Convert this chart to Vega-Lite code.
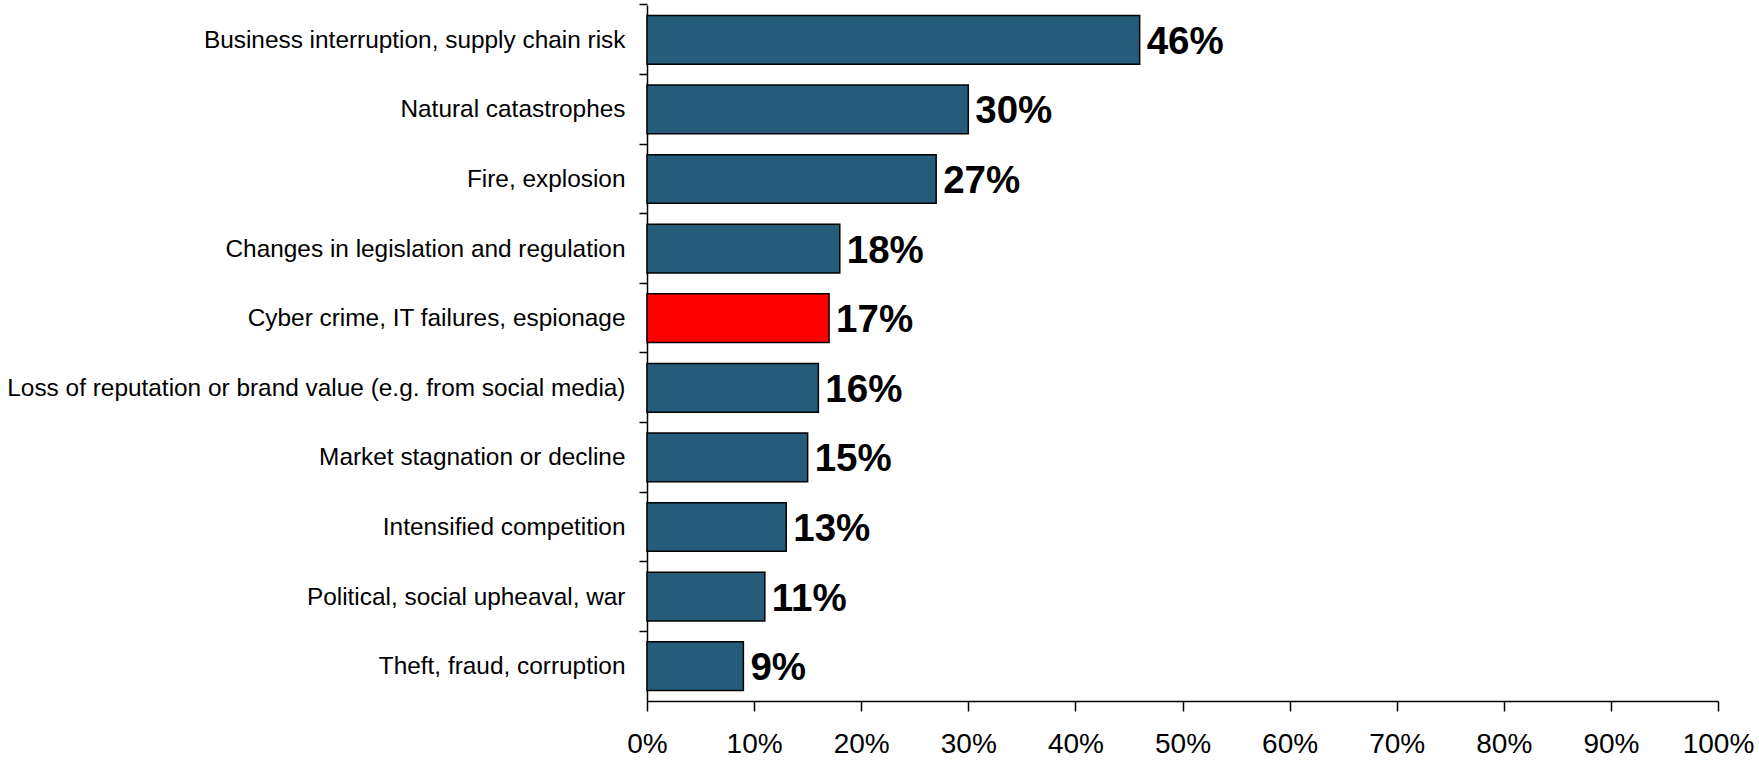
{
  "$schema": "https://vega.github.io/schema/vega-lite/v6.json",
  "width": 1071,
  "height": 696,
  "autosize": {"type": "none"},
  "padding": {"left": 647, "top": 5, "right": 41, "bottom": 63},
  "background": "white",
  "config": {"view": {"stroke": null}},
  "data": {"values": [
    {"risk": "Business interruption, supply chain risk", "share": 0.46, "highlight": "no"},
    {"risk": "Natural catastrophes", "share": 0.30, "highlight": "no"},
    {"risk": "Fire, explosion", "share": 0.27, "highlight": "no"},
    {"risk": "Changes in legislation and regulation", "share": 0.18, "highlight": "no"},
    {"risk": "Cyber crime, IT failures, espionage", "share": 0.17, "highlight": "yes"},
    {"risk": "Loss of reputation or brand value (e.g. from social media)", "share": 0.16, "highlight": "no"},
    {"risk": "Market stagnation or decline", "share": 0.15, "highlight": "no"},
    {"risk": "Intensified competition", "share": 0.13, "highlight": "no"},
    {"risk": "Political, social upheaval, war", "share": 0.11, "highlight": "no"},
    {"risk": "Theft, fraud, corruption", "share": 0.09, "highlight": "no"}
  ]},
  "encoding": {
    "y": {
      "field": "risk", "type": "nominal", "sort": null, "title": null,
      "scale": {"paddingInner": 0.3, "paddingOuter": 0.15},
      "axis": {
        "domainColor": "black", "domainWidth": 1.5,
        "tickColor": "black", "tickWidth": 1.5, "tickSize": 8,
        "bandPosition": -0.2143,
        "labelFont": "Liberation Sans, Arial",
        "labelFontSize": 24.4, "labelColor": "black", "labelPadding": 14,
        "labelLimit": 0, "labelOffset": 1
      }
    },
    "x": {
      "field": "share", "type": "quantitative", "title": null,
      "scale": {"domain": [0, 1], "nice": false},
      "axis": {
        "values": [0, 0.1, 0.2, 0.3, 0.4, 0.5, 0.6, 0.7, 0.8, 0.9, 1],
        "format": ".0%", "grid": false,
        "domainColor": "black", "domainWidth": 1.5,
        "tickColor": "black", "tickWidth": 1.5, "tickSize": 10,
        "labelFont": "Liberation Sans, Arial", "labelFontSize": 28,
        "labelColor": "black", "labelPadding": 19, "labelFlush": false
      }
    }
  },
  "layer": [
    {
      "mark": {"type": "bar", "stroke": "black", "strokeWidth": 1.5},
      "encoding": {
        "color": {
          "field": "highlight", "type": "nominal", "legend": null,
          "scale": {"domain": ["no", "yes"], "range": ["#245C7A", "#FF0000"]}
        }
      }
    },
    {
      "mark": {"type": "text", "align": "left", "baseline": "middle", "dx": 7, "dy": 2,
               "font": "Liberation Sans, Arial", "fontWeight": "bold", "fontSize": 38.5, "color": "black"},
      "encoding": {
        "text": {"field": "share", "type": "quantitative", "format": ".0%"}
      }
    }
  ]
}
